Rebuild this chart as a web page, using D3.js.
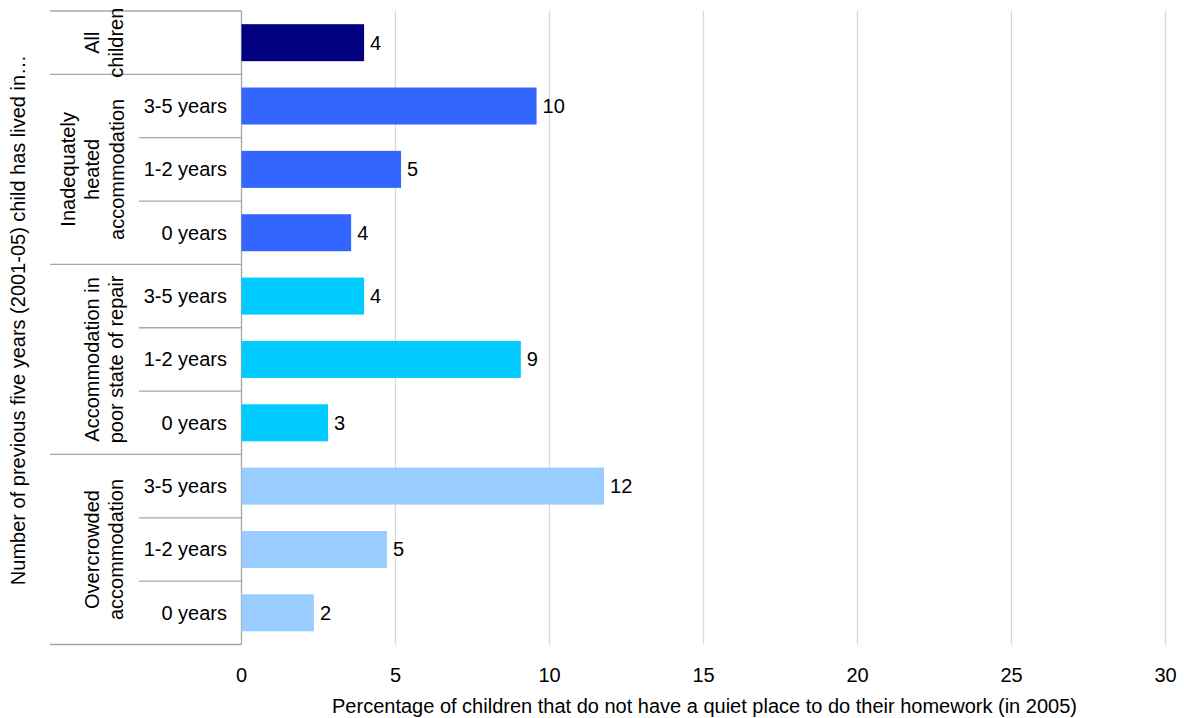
<!DOCTYPE html>
<html><head><meta charset="utf-8">
<script src="https://cdn.jsdelivr.net/npm/d3@7"></script>
<style>
html,body{margin:0;padding:0;background:#fff;}
svg{display:block;font-family:"Liberation Sans",Arial,sans-serif;}
</style></head>
<body><svg id="c" width="1184" height="718"></svg>
<script>
// ---- data ----
const groups = [
  ["All", "children"],
  ["Inadequately", "heated", "accommodation"],
  ["Accommodation in", "poor state of repair"],
  ["Overcrowded", "accommodation"]
];
const rowLabels = ["", "3-5 years", "1-2 years", "0 years", "3-5 years", "1-2 years", "0 years", "3-5 years", "1-2 years", "0 years"];
const rowGroup = [0, 1, 1, 1, 2, 2, 2, 3, 3, 3];
const values = [3.98, 9.58, 5.18, 3.56, 3.98, 9.07, 2.81, 11.77, 4.72, 2.35];
const groupColors = ["#000080", "#3366FF", "#00CCFF", "#99CCFF"];
const xTicks = [0, 5, 10, 15, 20, 25, 30];
const xTitle = "Percentage of children that do not have a quiet place to do their homework (in 2005)";
const yTitle = "Number of previous five years (2001-05) child has lived in\u2026";

// ---- layout ----
const svg = d3.select("#c");
const pL = 241.5, pR = 1165.5, pT = 11, pB = 644.5;
const fs = 20;
const x = d3.scaleLinear().domain([0, 30]).range([pL, pR]);
const idx = d3.range(values.length);
const y = d3.scaleBand().domain(idx).range([pT, pB]).paddingInner(0.416).paddingOuter(0.208);
const rowH = (pB - pT) / values.length;

// gridlines
svg.append("g").selectAll("line").data(xTicks.filter(d => d > 0)).join("line")
  .attr("x1", d => x(d)).attr("x2", d => x(d)).attr("y1", pT).attr("y2", pB)
  .attr("stroke", "#d9d9d9").attr("stroke-width", 1.3);

// table lines
const lineColor = "#a6a6a6";
const tbl = svg.append("g").attr("stroke", lineColor).attr("stroke-width", 1.3);
tbl.append("line").attr("x1", pL).attr("x2", pL).attr("y1", pT).attr("y2", pB);
d3.range(values.length + 1).forEach(i => {
  const yy = pT + i * rowH;
  const isGroupEdge = i === 0 || i === values.length || rowGroup[i] !== rowGroup[i - 1];
  tbl.append("line").attr("x1", isGroupEdge ? 50 : 139).attr("x2", pL).attr("y1", yy).attr("y2", yy);
});

// bars
svg.append("g").selectAll("rect").data(idx).join("rect")
  .attr("x", x(0)).attr("y", i => y(i))
  .attr("width", i => x(values[i]) - x(0)).attr("height", y.bandwidth())
  .attr("fill", i => groupColors[rowGroup[i]]);

// value labels
svg.append("g").selectAll("text").data(idx).join("text")
  .attr("x", i => x(values[i]) + 6).attr("y", i => y(i) + y.bandwidth() / 2)
  .attr("dy", "0.35em").attr("font-size", fs).attr("fill", "#000")
  .text(i => Math.round(values[i]));

// row labels
svg.append("g").selectAll("text").data(idx).join("text")
  .attr("x", 227).attr("y", i => y(i) + y.bandwidth() / 2)
  .attr("dy", "0.35em").attr("text-anchor", "end").attr("font-size", fs).attr("fill", "#000")
  .text(i => rowLabels[i]);

// group labels (rotated)
groups.forEach((lines, g) => {
  const rows = idx.filter(i => rowGroup[i] === g);
  const cy = pT + (rows[0] + rows.length / 2) * rowH;
  const cx = g === 0 ? 104 : (g === 1 ? 92 : 104);
  const lh = 24.5;
  const t = svg.append("text").attr("transform", `translate(${cx},${cy}) rotate(-90)`)
    .attr("text-anchor", "middle").attr("font-size", fs).attr("fill", "#000");
  lines.forEach((ln, k) => {
    t.append("tspan").attr("x", 0).attr("y", (k - (lines.length - 1) / 2) * lh).attr("dy", "0.35em").text(ln);
  });
});

// x axis tick labels
svg.append("g").selectAll("text").data(xTicks).join("text")
  .attr("x", d => x(d)).attr("y", 675).attr("dy", "0.35em")
  .attr("text-anchor", "middle").attr("font-size", fs).attr("fill", "#000")
  .text(d => d);

// axis titles
svg.append("text").attr("x", (326 + 1083) / 2).attr("y", 706).attr("dy", "0.35em")
  .attr("text-anchor", "middle").attr("font-size", fs).attr("fill", "#000").text(xTitle);
svg.append("text").attr("transform", `translate(18,${(50 + 590) / 2}) rotate(-90)`)
  .attr("dy", "0.35em").attr("text-anchor", "middle").attr("font-size", fs).attr("fill", "#000").text(yTitle);
</script></body></html>
